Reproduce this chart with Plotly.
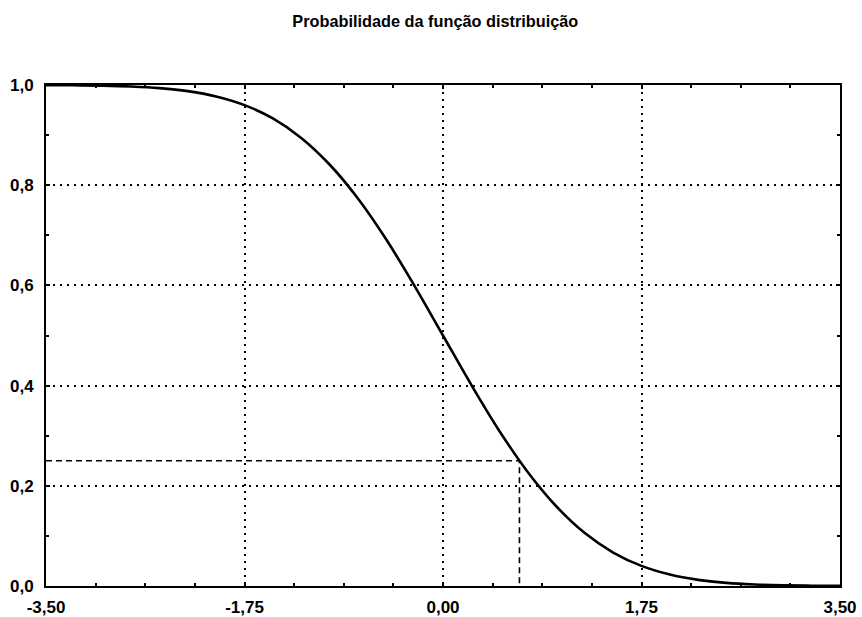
import plotly.graph_objects as go

x_vals = [-3.5, -3.25, -3.0, -2.75, -2.5, -2.25, -2.0, -1.75, -1.5, -1.25, -1.0, -0.75,
          -0.5, -0.25, 0.0, 0.25, 0.5, 0.75, 1.0, 1.25, 1.5, 1.75, 2.0, 2.25, 2.5,
          2.75, 3.0, 3.25, 3.5]
prob_vals = [0.9998, 0.9994, 0.9987, 0.9970, 0.9938, 0.9878, 0.9772, 0.9599, 0.9332,
             0.8944, 0.8413, 0.7734, 0.6915, 0.5987, 0.5000, 0.4013, 0.3085, 0.2266,
             0.1587, 0.1056, 0.0668, 0.0401, 0.0228, 0.0122, 0.0062, 0.0030, 0.0013,
             0.0006, 0.0002]
marker_x = 0.674
marker_p = 0.25
x_ticks = [-3.5, -1.75, 0.0, 1.75, 3.5]
x_tick_labels = ["-3,50", "-1,75", "0,00", "1,75", "3,50"]
y_ticks = [0.0, 0.2, 0.4, 0.6, 0.8, 1.0]
y_tick_labels = ["0,0", "0,2", "0,4", "0,6", "0,8", "1,0"]

fig = go.Figure()
fig.add_trace(go.Scatter(x=[-3.5, marker_x, marker_x], y=[marker_p, marker_p, 0],
                         mode="lines", line=dict(color="black", width=1.6, dash="6px,4px"),
                         hoverinfo="skip", showlegend=False))
fig.add_trace(go.Scatter(x=x_vals, y=prob_vals, mode="lines",
                         line=dict(color="black", width=2.6, shape="spline"),
                         showlegend=False))

font_tick = dict(family="Liberation Sans, Arial, sans-serif", size=17, color="black",
                 weight="bold")

common = dict(showgrid=True, gridcolor="black", gridwidth=2, griddash="2px,5px",
              zeroline=False, showline=True, linecolor="black", linewidth=2,
              mirror="allticks", ticks="inside", ticklen=4, tickcolor="black",
              tickwidth=1.5, tickfont=font_tick, automargin=False)

fig.update_layout(
    width=862, height=617,
    margin=dict(l=46, r=22, t=85, b=31),
    paper_bgcolor="white", plot_bgcolor="white",
    title=dict(text="<b>Probabilidade da função distribuição</b>",
               x=0.505, xanchor="center", y=0.974, yanchor="top",
               font=dict(family="Liberation Sans, Arial, sans-serif",
                         size=16.3, color="black")),
    xaxis=dict(range=[-3.5, 3.5], tickvals=x_ticks, ticktext=x_tick_labels,
               ticklabelstandoff=5,
               minor=dict(dtick=0.4375, tick0=-3.5, ticks="inside", ticklen=3,
                          tickcolor="black", showgrid=False),
               **common),
    yaxis=dict(range=[0, 1], tickvals=y_ticks, ticktext=y_tick_labels,
               ticklabelstandoff=7,
               minor=dict(dtick=0.1, tick0=0, ticks="inside", ticklen=3,
                          tickcolor="black", showgrid=False),
               **common),
)

fig.write_html("out.html", config={"displayModeBar": False},
               post_script="document.body.style.margin='0';document.body.style.overflow='hidden';")
